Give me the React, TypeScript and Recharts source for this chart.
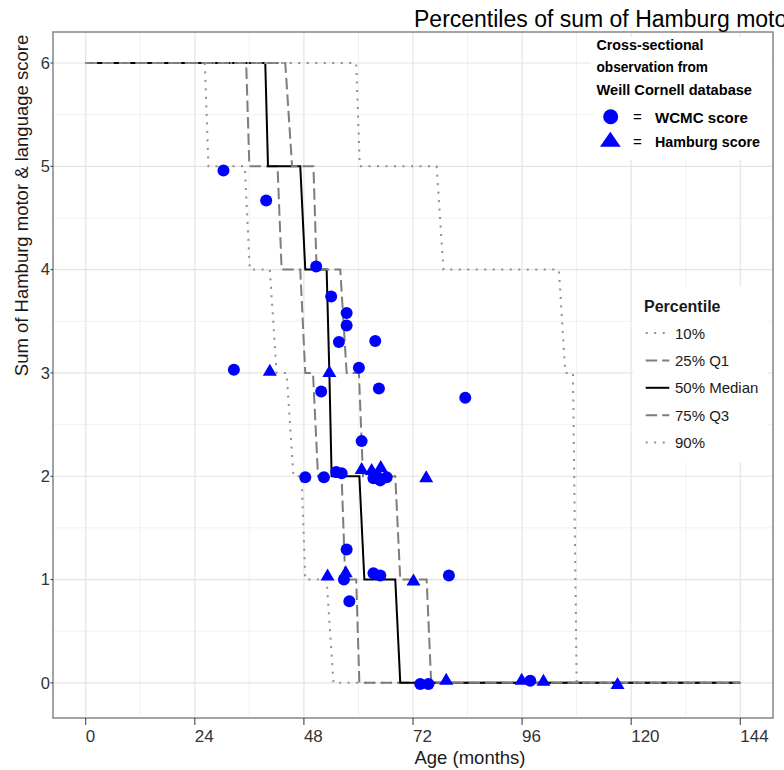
import React from 'react'
import { ComposedChart, Line, Scatter, XAxis, YAxis, CartesianGrid, ReferenceArea } from 'recharts'

// percentile curves: age (months) -> summed Hamburg motor & language score
const p10Age = [0, 26.2, 27.0, 35.0, 36.1, 40.5, 42.0, 44.2, 45.7, 47.5, 48.3, 53.0, 54.5, 144]
const p10Score = [6, 6, 5, 5, 4, 4, 3, 3, 2, 2, 1, 1, 0, 0]
const p25Age = [0, 35.3, 36.0, 42.2, 43.1, 47.2, 48.3, 50.0, 51.1, 56.3, 57.1, 59.5, 60.2, 144]
const p25Score = [6, 6, 5, 5, 4, 4, 3, 3, 2, 2, 1, 1, 0, 0]
const p50Age = [0, 39.5, 40.1, 47.2, 48.3, 53.0, 53.6, 54.1, 60.2, 61.3, 68.1, 69.2, 144]
const p50Score = [6, 6, 5, 5, 4, 4, 3, 2, 2, 1, 1, 0, 0]
const p75Age = [0, 43.9, 45.4, 50.1, 50.8, 56.0, 57.4, 60.1, 61.0, 68.1, 69.2, 75.0, 76.0, 144]
const p75Score = [6, 6, 5, 5, 4, 4, 3, 3, 2, 2, 1, 1, 0, 0]
const p90Age = [0, 59.5, 60.3, 77.2, 78.7, 104.1, 105.5, 107.2, 108.0, 144]
const p90Score = [6, 6, 5, 5, 4, 4, 3, 3, 0, 0]

// cross-sectional observations
const wcmcAge = [30.3, 39.7, 50.7, 54.0, 57.4, 57.4, 55.7, 63.7, 32.6, 60.1, 51.8, 64.5, 83.5, 60.7, 48.3, 52.4,
  55.1, 56.3, 63.3, 63.9, 64.8, 66.2, 57.4, 56.8, 58.0, 63.3, 64.8, 79.9, 73.6, 75.4, 97.8]
const wcmcScore = [4.96, 4.67, 4.03, 3.74, 3.58, 3.46, 3.30, 3.31, 3.03, 3.05, 2.82, 2.85, 2.76, 2.34, 1.99, 1.99,
  2.04, 2.03, 1.98, 2.01, 1.96, 1.99, 1.29, 1.00, 0.79, 1.06, 1.04, 1.04, -0.01, -0.01, 0.02]
const hamburgAge = [40.5, 53.6, 60.7, 62.9, 64.9, 74.9, 53.2, 57.2, 72.1, 79.3, 95.9, 100.7, 117.0]
const hamburgScore = [3.02, 3.01, 2.07, 2.06, 2.09, 1.99, 1.04, 1.07, 0.99, 0.03, 0.03, 0.02, -0.01]

const xTicks = [0, 24, 48, 72, 96, 120, 144]
const yTicks = [0, 1, 2, 3, 4, 5, 6]
const xMinor = [12, 36, 60, 84, 108, 132]
const yMinor = [0.5, 1.5, 2.5, 3.5, 4.5, 5.5]
const percentileNames = ['10%', '25% Q1', '50% Median', '75% Q3', '90%']

const FONT = '"Liberation Sans", Arial, Helvetica, sans-serif'
const DOT = '2 6.5'
const DASH = '11.5 5'

const toRows = (ages: number[], scores: number[]) => ages.map((x, i) => ({ x, y: scores[i] }))

const curves = [
  { rows: toRows(p10Age, p10Score), stroke: '#8f8f8f', dash: DOT },
  { rows: toRows(p25Age, p25Score), stroke: '#7d7d7d', dash: DASH },
  { rows: toRows(p50Age, p50Score), stroke: '#000000', dash: undefined },
  { rows: toRows(p75Age, p75Score), stroke: '#7d7d7d', dash: DASH },
  { rows: toRows(p90Age, p90Score), stroke: '#8f8f8f', dash: DOT },
]

const wcmc = toRows(wcmcAge, wcmcScore)
const hamburg = toRows(hamburgAge, hamburgScore)

const Circle = (p: any) => <circle cx={p.cx} cy={p.cy} r={6} fill="#0000ff" />
const Triangle = (p: any) => (
  <path d={`M${p.cx},${p.cy - 7} L${p.cx + 7},${p.cy + 5} L${p.cx - 7},${p.cy + 5} Z`} fill="#0000ff" />
)

const XTick = (p: any) => (
  <text x={p.x} y={p.y} dy="0.71em" textAnchor="start" fontSize={17} fill="#333" fontFamily={FONT}>
    {p.payload.value}
  </text>
)

export default function App() {
  return (
    <div style={{ position: 'absolute', left: 0, top: 0, width: 784, height: 770, overflow: 'hidden', background: '#fff', fontFamily: FONT }}>
      <ComposedChart width={784} height={770} margin={{ top: 32, right: 11, bottom: 0, left: 0 }}>
        <CartesianGrid stroke="#f1f1f1" strokeWidth={1} verticalValues={xMinor} horizontalValues={yMinor} />
        <CartesianGrid stroke="#e4e4e4" strokeWidth={1.2} />
        <XAxis
          type="number"
          dataKey="x"
          domain={[-7.2, 151.2]}
          ticks={xTicks}
          allowDataOverflow
          height={52}
          axisLine={false}
          tickLine={{ stroke: '#333' }}
          tickSize={7}
          tickMargin={4.5}
          tick={XTick}
        />
        <YAxis
          type="number"
          dataKey="y"
          domain={[-0.34, 6.3]}
          ticks={yTicks}
          allowDataOverflow
          width={53}
          axisLine={false}
          tickLine={{ stroke: '#333' }}
          tickSize={2.5}
          tickMargin={0.5}
          tick={{ fontSize: 16.5, fill: '#333', fontFamily: FONT }}
        />
        <ReferenceArea x1={-7.2} x2={151.2} y1={-0.34} y2={6.3} fill="none" stroke="#8a8a8a" strokeWidth={1.5} />
        {curves.map((c, i) => (
          <Line
            key={i}
            data={c.rows}
            dataKey="y"
            type="linear"
            stroke={c.stroke}
            strokeWidth={2}
            strokeDasharray={c.dash}
            dot={false}
            activeDot={false}
            isAnimationActive={false}
          />
        ))}
        <Scatter data={wcmc} shape={Circle} isAnimationActive={false} />
        <Scatter data={hamburg} shape={Triangle} isAnimationActive={false} />
      </ComposedChart>

      <svg width={784} height={770} style={{ position: 'absolute', left: 0, top: 0, pointerEvents: 'none' }} fontFamily={FONT}>
        <text x={414} y={27} fontSize={23} fill="#000">Percentiles of sum of Hamburg motor &amp; language score</text>
        <text transform="translate(28,205.5) rotate(-90)" textAnchor="middle" fontSize={18.5} fill="#1a1a1a">
          Sum of Hamburg motor &amp; language score
        </text>
        <text x={470} y={764} textAnchor="middle" fontSize={18.5} fill="#1a1a1a">Age (months)</text>

        {/* observation legend */}
        <rect x={591} y={37} width={181} height={123} fill="#fff" />
        <text x={596.5} y={50} fontSize={14.5} fontWeight="bold" textLength={107} lengthAdjust="spacingAndGlyphs">Cross-sectional</text>
        <text x={596.5} y={71.7} fontSize={14.5} fontWeight="bold" textLength={111.5} lengthAdjust="spacingAndGlyphs">observation from</text>
        <text x={596.5} y={95} fontSize={14.5} fontWeight="bold" textLength={155.5} lengthAdjust="spacingAndGlyphs">Weill Cornell database</text>
        <circle cx={610.7} cy={116.7} r={7.5} fill="#0000ff" />
        <path d="M610.3,131.7 L620.7,146.7 L600,146.7 Z" fill="#0000ff" />
        <text x={633} y={122} fontSize={15}>=</text>
        <text x={633} y={147} fontSize={15}>=</text>
        <text x={655} y={122.7} fontSize={15} fontWeight="bold" textLength={93} lengthAdjust="spacingAndGlyphs">WCMC score</text>
        <text x={655} y={146.7} fontSize={15} fontWeight="bold" textLength={105} lengthAdjust="spacingAndGlyphs">Hamburg score</text>

        {/* percentile legend */}
        <rect x={633} y={287} width={135} height={175} fill="#fff" />
        <text x={644} y={311.7} fontSize={16} fontWeight="bold" fill="#1a1a1a">Percentile</text>
        {percentileNames.map((name, i) => (
          <g key={name}>
            <line
              x1={645.7}
              x2={669.3}
              y1={333 + 27.4 * i}
              y2={333 + 27.4 * i}
              stroke={curves[i].stroke}
              strokeWidth={2}
              strokeDasharray={curves[i].dash}
            />
            <text x={675} y={338.5 + 27.4 * i} fontSize={15} fill="#1a1a1a">{name}</text>
          </g>
        ))}
      </svg>
    </div>
  )
}
